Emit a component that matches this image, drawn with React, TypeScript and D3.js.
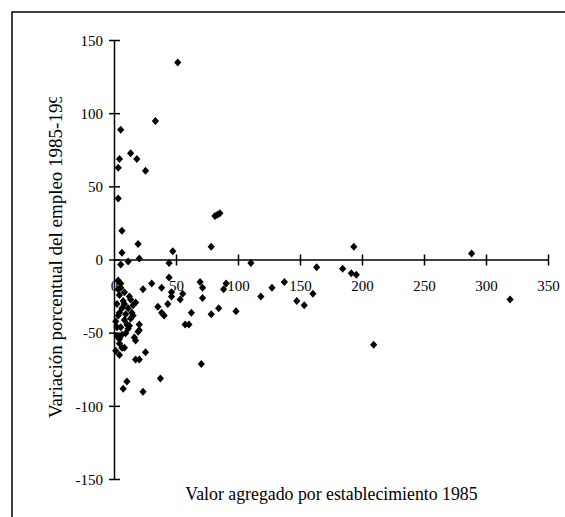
import React from "react";
import * as d3 from "d3";

const xTicks = [0, 50, 100, 150, 200, 250, 300, 350];
const yTicks = [-150, -100, -50, 0, 50, 100, 150];

const valorAgregado = [
  51, 33, 5, 13, 4, 18, 3, 25, 3, 6, 19, 6, 20, 47, 81, 83, 85, 78, 193, 288, 11, 5, 44, 110,
  163, 184, 191, 195, 137, 127, 160, 147, 153, 319, 209,
  69, 71, 90, 88, 55, 71, 118, 84, 78, 62, 98, 57, 60, 70,
  3, 5, 5, 30, 44, 38, 23, 46, 46, 53, 4, 7, 17, 15, 11, 35, 43, 38, 40,
  20, 20, 3, 8, 2, 11, 4, 10,
  6, 19, 17, 4, 8, 4, 25, 17, 20, 37, 10, 7, 23, 4, 16,
  2, 6, 9, 13, 1, 5, 9, 2, 12, 14, 1, 6, 3, 8, 12, 13, 8, 15
];
const variacionEmpleo = [
  135, 95, 89, 73, 69, 69, 63, 61, 42, 20, 11, 5, 1, 6, 30, 31, 32, 9, 9, 4.5, -1, -3, -2, -2,
  -5, -6, -9, -10, -15, -19, -23, -28, -31, -27, -58,
  -15, -19, -16, -20, -23, -26, -25, -33, -37, -36, -35, -44, -44, -71,
  -14, -16, -19, -16, -12, -19, -20, -22, -25, -27, -24, -28, -29, -31, -33, -32, -30, -36, -38,
  -44, -48, -38, -41, -46, -47, -36, -44,
  -51, -49, -55, -57, -60, -65, -63, -68, -68, -81, -83, -88, -90, -54, -53,
  -30, -33, -37, -40, -42, -46, -50, -52, -45, -36, -62, -60, -20, -22, -25, -27, -30, -38
];

const xTitle = "Valor agregado por establecimiento 1985";
const yTitle = "Variación porcentual del empleo 1985-1995";

export default function App() {
  const x = d3.scaleLinear().domain([0, 350]).range([114.5, 548.5]);
  const y = d3.scaleLinear().domain([-150, 150]).range([479.5, 40.5]);
  const font = "'Liberation Serif', 'Times New Roman', serif";
  const diamond = "M0,-4L3.6,0L0,4L-3.6,0Z";
  const pts = valorAgregado.map((v, i) => [v, variacionEmpleo[i]]);
  return (
    <svg
      width={565}
      height={517}
      style={{ position: "absolute", left: 0, top: 0, background: "#fff" }}
    >
      <defs>
        <clipPath id="ytitleclip">
          <rect x={20} y={97} width={80} height={400} />
        </clipPath>
      </defs>
      <rect x={12} y={12} width={700} height={700} fill="#fff" stroke="#000" strokeWidth={1.5} />
      <line x1={x(0)} x2={x(0)} y1={y(-150)} y2={y(150)} stroke="#000" strokeWidth={1.5} />
      <line x1={x(0)} x2={x(350)} y1={y(0)} y2={y(0)} stroke="#000" strokeWidth={1.5} />
      {yTicks.map((t) => (
        <g key={"yt" + t}>
          <line x1={x(0) - 5.5} x2={x(0) + 5.5} y1={y(t)} y2={y(t)} stroke="#000" strokeWidth={1.5} />
          <text x={103} y={y(t)} dy="0.35em" textAnchor="end" fontFamily={font} fontSize={15}>
            {t}
          </text>
        </g>
      ))}
      {xTicks.map((t) => (
        <g key={"xt" + t}>
          {t > 0 && (
            <line x1={x(t)} x2={x(t)} y1={y(0) - 5.5} y2={y(0) + 5.5} stroke="#000" strokeWidth={1.5} />
          )}
          <text x={x(t)} y={y(0) + 26} dy="0.35em" textAnchor="middle" fontFamily={font} fontSize={15}>
            {t}
          </text>
        </g>
      ))}
      <text x={331.5} y={500} textAnchor="middle" fontFamily={font} fontSize={17.8}>
        {xTitle}
      </text>
      <g clipPath="url(#ytitleclip)">
        <text
          transform={`translate(62,418) rotate(-90)`}
          textAnchor="start"
          fontFamily={font}
          fontSize={19}
        >
          {yTitle}
        </text>
      </g>
      {pts.map(([a, b], i) => (
        <path key={i} d={diamond} transform={`translate(${x(a)},${y(b)})`} fill="#000" />
      ))}
    </svg>
  );
}
